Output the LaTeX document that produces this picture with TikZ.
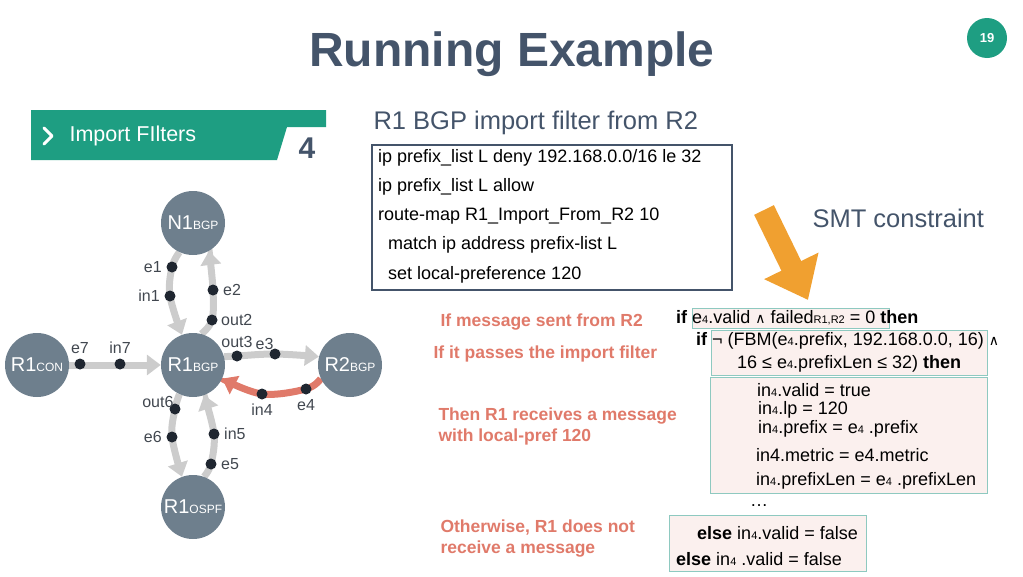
\documentclass[tikz,border=0pt]{standalone}
\usepackage{fontspec}
\setmainfont{Liberation Sans}
\newfontfamily\symfont{DejaVu Sans}
\usetikzlibrary{arrows.meta,positioning,backgrounds}
\definecolor{slate}{HTML}{6E7F8D}
\definecolor{titleblue}{HTML}{44546A}
\definecolor{teal}{HTML}{1E9E82}
\definecolor{redtxt}{HTML}{E07A6A}
\definecolor{pinkbg}{HTML}{FBF0EE}
\definecolor{boxline}{HTML}{8EC9C0}
\definecolor{orng}{HTML}{F0A030}
\definecolor{dotc}{HTML}{1F2630}
\newcommand{\subtxt}[1]{{\fontsize{12}{12}\selectfont #1}}
\newcommand{\lo}[1]{{\fontsize{11}{11}\selectfont #1}}
\newcommand{\andsym}{{\symfont\fontsize{14}{14}\selectfont ∧}}

\begin{document}
\begin{tikzpicture}[x=1pt,y=-1pt,
  router/.style={circle, fill=slate, minimum size=64pt, inner sep=0pt, text=white, font=\fontsize{20}{20}\selectfont},
  port/.style={circle, fill=dotc, minimum size=11pt, inner sep=0pt},
  plabel/.style={font=\fontsize{16}{16}\selectfont, text=dotc!85},
  flow/.style={line width=7pt, draw=black!20, -{Triangle[length=14pt,width=20pt]}},
  redflow/.style={flow, draw=redtxt},
  hint/.style={anchor=west, text=redtxt, font=\bfseries\fontsize{17.5}{21}\selectfont, align=left},
  code/.style={anchor=west, font=\fontsize{18}{18}\selectfont, inner sep=0pt},
  smtbox/.style={draw=boxline, fill=pinkbg, line width=1pt}]

  \useasboundingbox (0,0) rectangle (1023,576);

  % title and banner
  \node[text=titleblue, font=\bfseries\fontsize{48}{48}\selectfont] (title) at (512,54) {Running Example};
  \node[circle, fill=teal, minimum size=40pt, text=white, font=\bfseries\fontsize{13}{13}\selectfont] (page) at (987,38) {19};
  \fill[teal] (31,110) -- (326,110) -- (326,127) -- (287,127) -- (277,160) -- (31,160) -- cycle;
  \draw[white, line width=3pt, line cap=round, line join=round] (44,128) -- (52,136) -- (44,144);
  \node[anchor=west, text=white, font=\fontsize{21.5}{21.5}\selectfont] (section) at (66,136) {Import FIlters};
  \node[text=titleblue, font=\bfseries\fontsize{30}{30}\selectfont] (step4) at (307,148) {4};

  % routers
  \node[router] (n1) at (193,223) {N1\subtxt{BGP}};
  \node[router] (rcon) at (37,365) {R1\subtxt{CON}};
  \node[router] (r1) at (193,365) {R1\subtxt{BGP}};
  \node[router] (r2) at (350,365) {R2\subtxt{BGP}};
  \node[router] (ospf) at (193,507) {R1\subtxt{OSPF}};

  % ports
  \node[port] (e1) at (172,267) {};   \node[plabel, left=1pt of e1] {e1};
  \node[port] (in1) at (170,296) {};  \node[plabel, left=1pt of in1] {in1};
  \node[port] (e2) at (213,290) {};   \node[plabel, right=1pt of e2] {e2};
  \node[port] (out2) at (212,320) {}; \node[plabel, right=0pt of out2] {out2};
  \node[port] (out3) at (237,356) {}; \node[plabel, above=-1pt of out3] {out3};
  \node[port] (e3) at (275,354) {};   \node[plabel, above left=-3pt and -6pt of e3] {e3};
  \node[port] (e4) at (306,389) {};   \node[plabel, below=1pt of e4] {e4};
  \node[port] (in4) at (262,394) {};  \node[plabel, below=1pt of in4] {in4};
  \node[port] (out6) at (175,409) {}; \node[plabel, above left=-6pt and -6pt of out6] {out6};
  \node[port] (e6) at (172,437) {};   \node[plabel, left=1pt of e6] {e6};
  \node[port] (in5) at (214,434) {};  \node[plabel, right=1pt of in5] {in5};
  \node[port] (e5) at (211,464) {};   \node[plabel, right=1pt of e5] {e5};
  \node[port] (e7) at (80,364) {};    \node[plabel, above=1pt of e7] {e7};
  \node[port] (in7) at (120,364) {};  \node[plabel, above=1pt of in7] {in7};

  % edges
  \begin{scope}[on background layer]
    \draw[flow] plot[smooth, tension=0.6] coordinates {(n1.245) (e1.center) (in1.center) (r1.110)};
    \draw[flow] plot[smooth, tension=0.6] coordinates {(r1.75) (out2.center) (e2.center) (n1.300)};
    \draw[flow] plot[smooth, tension=0.6] coordinates {(r1.15) (out3.center) (e3.center) (r2.165)};
    \draw[redflow] plot[smooth, tension=0.6] coordinates {(r2.205) (e4.center) (in4.center) (r1.335)};
    \draw[flow] plot[smooth, tension=0.6] coordinates {(r1.245) (out6.center) (e6.center) (ospf.110)};
    \draw[flow] plot[smooth, tension=0.6] coordinates {(ospf.70) (e5.center) (in5.center) (r1.290)};
    \draw[flow] (rcon) -- (r1);
  \end{scope}

  % filter config
  \node[anchor=west, text=titleblue, font=\fontsize{25.5}{25.5}\selectfont] (head) at (370,123) {R1 BGP import filter from R2};
  \draw[titleblue, line width=2.5pt] (372,145) rectangle (732,290);
  \node[code] (c1) at (378,158) {ip prefix\_list L deny 192.168.0.0/16 le 32};
  \node[code] (c2) at (378,187) {ip prefix\_list L allow};
  \node[code] (c3) at (378,216) {route-map R1\_Import\_From\_R2 10};
  \node[code] (c4) at (388,245) {match ip address prefix-list L};
  \node[code] (c5) at (388,275) {set local-preference 120};

  % SMT
  \node[anchor=west, text=titleblue, font=\fontsize{25.5}{25.5}\selectfont] (smt) at (809,218) {SMT constraint};
  \draw[orng, line width=22pt, -{Triangle[length=38pt,width=58pt]}] (764,210) -- (808,300);

  % hints
  \node[hint] (h1) at (437,322) {If message sent from R2};
  \node[hint] (h2) at (430,354) {If it passes the import filter};
  \node[hint] (h3) at (435,426) {Then R1 receives a message\\with local-pref 120};
  \node[hint] (h4) at (437,539) {Otherwise, R1 does not\\receive a message};

  % constraint boxes
  \draw[smtbox] (692,308) rectangle (889,328);
  \draw[smtbox] (711,330) rectangle (987,375);
  \draw[smtbox] (710,377) rectangle (987,493);
  \draw[smtbox] (669,515) rectangle (866,571);
  \node[code] (s1) at (676,318) {\textbf{if} e\lo{4}.valid \andsym{} failed\lo{R1,R2} = 0 \textbf{then}};
  \node[code] (s2) at (696,341) {\textbf{if} ¬ (FBM(e\lo{4}.prefix, 192.168.0.0, 16) \andsym};
  \node[code] (s3) at (737,364) {16 ≤ e\lo{4}.prefixLen ≤ 32) \textbf{then}};
  \node[code] (s4) at (757,390) {in\lo{4}.valid = true};
  \node[code] (s5) at (758,410) {in\lo{4}.lp = 120};
  \node[code] (s6) at (758,429) {in\lo{4}.prefix = e\lo{4} .prefix};
  \node[code] (s7) at (756,455) {in4.metric = e4.metric};
  \node[code] (s8) at (756,481) {in\lo{4}.prefixLen = e\lo{4} .prefixLen};
  \node[code] (dots) at (750,506) {\dots};
  \node[code] (s9) at (697,533) {\textbf{else} in\lo{4}.valid = false};
  \node[code] (s10) at (676,559) {\textbf{else} in\lo{4} .valid = false};

\end{tikzpicture}
\end{document}
